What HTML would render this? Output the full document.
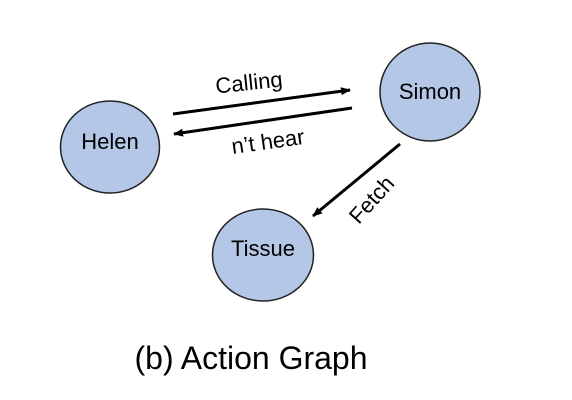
<!DOCTYPE html>
<html><head><style>body{margin:0;background:#fff}svg{display:block}</style></head><body>
<svg width="572" height="400" xmlns="http://www.w3.org/2000/svg" font-family="Liberation Sans, sans-serif">
<defs><marker id="a" markerWidth="10" markerHeight="8" refX="9" refY="4" orient="auto" markerUnits="userSpaceOnUse"><path d="M0,0 L10,4 L0,8 z" fill="#000"/></marker></defs>
<g fill="#b4c7e7" stroke="#222" stroke-width="1.5">
<ellipse cx="110" cy="147" rx="49.5" ry="46"/>
<ellipse cx="430" cy="92" rx="50" ry="49"/>
<ellipse cx="263" cy="255" rx="50.5" ry="46"/>
</g>
<g stroke="#000" stroke-width="3" marker-end="url(#a)">
<line x1="173" y1="114" x2="350" y2="90"/>
<line x1="352" y1="108" x2="174" y2="134"/>
<line x1="400" y1="144" x2="313" y2="216"/>
</g>
<g font-size="22" text-anchor="middle" fill="#000">
<text x="110" y="149">Helen</text>
<text x="430" y="99">Simon</text>
<text x="263" y="256">Tissue</text>
<text x="249" y="90" transform="rotate(-6 249 83)">Calling</text>
<text x="268" y="149" transform="rotate(-8 268 142)">n’t hear</text>
<text x="372" y="207" transform="rotate(-48 372 200)">Fetch</text>
</g>
<text x="251" y="369" font-size="32" text-anchor="middle">(b) Action Graph</text>
</svg>
</body></html>
